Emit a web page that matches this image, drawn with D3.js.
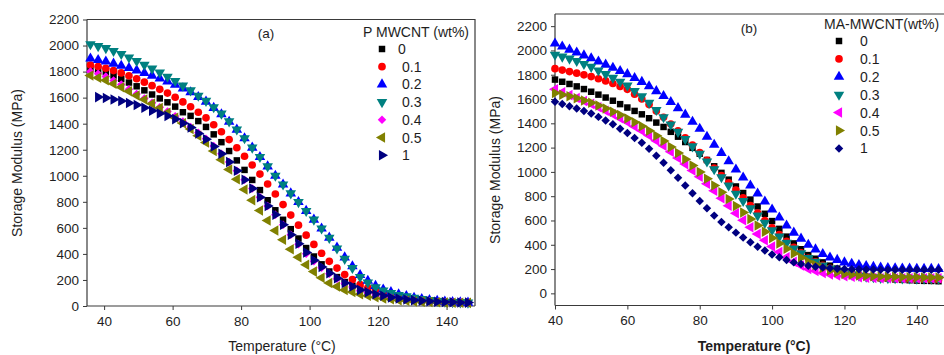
<!DOCTYPE html>
<html><head><meta charset="utf-8">
<script src="https://cdn.jsdelivr.net/npm/d3@7"></script>
<style>
body{margin:0;background:#fff;}
svg{display:block;font-family:"Liberation Sans",Arial,sans-serif;}
</style></head>
<body><svg id="c" width="944" height="355"></svg>
<script>
// ---------- data ----------
const legendLabels = ["0","0.1","0.2","0.3","0.4","0.5","1"];
const yTicks = [0,200,400,600,800,1000,1200,1400,1600,1800,2000,2200];
const xTicks = [40,60,80,100,120,140];

// Panel (a): P MWCNT
const tempsA = [36,38.25,40.5,42.75,45,47.25,49.5,51.75,54,56.25,58.5,60.75,63,65.25,67.5,69.75,72,74.25,76.5,78.75,81,83.25,85.5,87.75,90,92.25,94.5,96.75,99,101.25,103.5,105.75,108,110.25,112.5,114.75,117,119.25,121.5,123.75,126,128.25,130.5,132.75,135,137.25,139.5,141.75,144,146.25];
const a_0  = [1830,1813,1795,1770,1745,1716,1687,1656,1624,1594,1564,1531,1488,1460,1420,1375,1318,1258,1190,1118,1045,968,890,812,735,662,590,518,445,380,320,265,222,184,156,128,109,91,78,66,57,50,44,40,35,32,29,27,25,24];
const a_01 = [1850,1839,1826,1808,1790,1768,1745,1719,1692,1664,1635,1603,1567,1530,1488,1445,1392,1338,1278,1215,1150,1083,1013,937,860,779,698,621,544,473,405,343,291,241,203,164,140,118,100,84,70,60,51,44,38,34,31,29,27,25];
const a_02 = [1900,1889,1877,1861,1845,1827,1809,1789,1769,1748,1725,1700,1671,1641,1605,1569,1521,1472,1415,1354,1288,1216,1144,1072,1000,933,865,798,730,663,595,525,448,373,305,238,194,154,127,106,89,76,63,54,45,39,33,30,28,26];
const a_03 = [2010,1996,1980,1958,1935,1908,1881,1852,1823,1793,1761,1728,1692,1656,1615,1575,1526,1477,1418,1355,1288,1216,1144,1072,1000,933,865,798,730,663,595,523,442,362,292,223,181,143,118,100,85,74,63,54,45,39,33,30,28,26];
const a_04 = [1800,1783,1763,1732,1700,1664,1628,1594,1560,1526,1493,1457,1416,1375,1330,1285,1228,1170,1105,1038,970,903,835,768,700,624,547,474,402,343,293,247,209,172,145,118,101,85,73,63,54,48,42,38,34,31,29,27,26,25];
const a_05 = [1770,1753,1734,1707,1680,1649,1617,1586,1554,1520,1484,1446,1403,1359,1308,1256,1190,1123,1049,973,894,813,733,657,580,508,436,375,316,264,217,176,149,123,107,90,78,67,58,51,45,40,35,33,30,28,26,25,25,24];
const a_1  = [null,1604,1598,1586,1575,1559,1544,1523,1500,1479,1459,1435,1403,1370,1325,1280,1225,1169,1105,1038,970,903,835,768,700,624,547,478,410,351,300,252,214,177,150,123,106,90,78,66,57,50,44,40,36,33,31,29,27,26];

// Panel (b): MA-MWCNT
const tempsB = [40,42,44,46,48,50,52,54,56,58,60,62,64,66,68,70,72,74,76,78,80,82,84,86,88,90,92,94,96,98,100,102,104,106,108,110,112,114,116,118,120,122,124,126,128,130,132,134,136,138,140,142,144,146];
const b_0  = [1760,1742,1724,1704,1682,1660,1636,1612,1586,1558,1530,1502,1474,1442,1406,1370,1330,1290,1246,1198,1150,1098,1046,992,936,880,826,772,715,655,595,531,467,411,363,315,285,255,228,204,180,166,152,141,133,125,120,115,111,108,105,103,102,100];
const b_01 = [1850,1838,1826,1813,1799,1785,1767,1749,1728,1704,1680,1640,1600,1554,1502,1450,1394,1338,1280,1220,1160,1096,1032,970,910,850,786,722,660,600,540,484,428,378,334,290,260,230,206,188,170,158,146,137,131,125,122,119,117,116,115,114,113,112];
const b_02 = [2057,2032,2007,1983,1959,1935,1909,1883,1857,1831,1805,1773,1741,1705,1665,1625,1575,1525,1471,1413,1355,1289,1223,1156,1088,1020,954,888,822,756,690,624,558,500,450,400,362,324,295,275,255,244,233,225,218,212,209,206,204,203,202,201,201,200];
const b_03 = [1965,1949,1933,1913,1889,1865,1835,1805,1774,1742,1710,1666,1622,1570,1510,1450,1390,1330,1270,1210,1150,1086,1022,956,888,820,760,700,640,580,520,468,416,370,330,290,260,230,205,185,165,155,145,138,133,128,126,124,123,122,121,121,120,120];
const b_04 = [1680,1656,1632,1608,1584,1560,1532,1504,1474,1442,1410,1374,1338,1299,1257,1215,1165,1115,1064,1012,960,902,844,784,722,660,602,544,489,437,385,341,297,260,230,200,184,168,156,148,140,136,132,129,127,125,125,125,125,125,125,125,125,125];
const b_05 = [1650,1636,1622,1606,1588,1570,1546,1522,1496,1468,1440,1408,1376,1339,1297,1255,1205,1155,1104,1052,1000,944,888,832,776,720,666,612,559,507,455,411,367,328,294,260,234,208,188,174,160,154,148,144,140,138,137,136,134,133,132,131,131,130];
const b_1  = [1577,1559,1541,1522,1501,1481,1453,1424,1392,1356,1320,1280,1240,1191,1133,1075,1013,951,888,824,760,700,640,588,544,500,460,420,384,352,320,297,274,255,242,228,220,212,206,203,200,199,198,197,196,195,195,195,195,195,195,195,195,195];

const colors = ["#000000","#ff0000","#0000ff","#008080","#ff00ff","#808000","#000080"];

// ---------- drawing ----------
const svg = d3.select("#c");
const TXT = "#1e1e1e", AX = "#3a3a3a";

const sym = {
  square:  {t:d3.symbolSquare,  s:42, r:0},
  circle:  {t:d3.symbolCircle,  s:46, r:0},
  up:      {t:d3.symbolTriangle,s:48, r:0},
  down:    {t:d3.symbolTriangle,s:48, r:180},
  left:    {t:d3.symbolTriangle,s:48, r:-90},
  right:   {t:d3.symbolTriangle,s:48, r:90},
  diamond: {t:d3.symbolSquare,  s:36, r:45}
};

function panel(cfg){
  const x = d3.scaleLinear().domain(cfg.xd).range([cfg.L, cfg.R]);
  const y = d3.scaleLinear().domain(cfg.yd).range([cfg.B, cfg.T]);
  const g = svg.append("g");

  g.append("path").attr("d",`M${cfg.L},${cfg.T}H${cfg.R}V${cfg.B}`)
    .attr("fill","none").attr("stroke",AX).attr("stroke-width",1.2);

  const ya = d3.axisLeft(y).tickValues(yTicks).tickFormat(d3.format("d")).tickSize(4).tickSizeOuter(0).tickPadding(4);
  const yg = g.append("g").attr("transform",`translate(${cfg.L},0)`).call(ya);
  const xa = d3.axisBottom(x).tickValues(xTicks).tickFormat(d3.format("d")).tickSize(4).tickSizeOuter(0).tickPadding(6);
  const xg = g.append("g").attr("transform",`translate(0,${cfg.B})`).call(xa);
  [yg,xg].forEach(a=>{
    a.selectAll("path").attr("stroke",AX).attr("stroke-width",1.2);
    a.selectAll("line").attr("stroke",AX).attr("stroke-width",1);
    a.selectAll("text").attr("fill",TXT).style("font-size","13.5px").style("font-family","Liberation Sans, Arial, sans-serif");
  });
  yg.select("path.domain").attr("d",`M0,${cfg.B}V${cfg.T}`);
  xg.select("path.domain").attr("d",`M${cfg.L},0H${cfg.R}`);

  cfg.series.forEach((vals,i)=>{
    const sp = sym[cfg.shapes[i]];
    const gen = d3.symbol().type(sp.t).size(sp.s);
    const pts = cfg.temps.map((t,j)=>[t,vals[j]]).filter(d=>d[1]!=null);
    g.append("g").selectAll("path").data(pts).join("path")
      .attr("d",gen)
      .attr("transform",d=>`translate(${x(d[0])},${y(d[1])}) rotate(${sp.r})`)
      .attr("fill",colors[i]);
  });

  g.append("text").attr("x",cfg.lab[0]).attr("y",cfg.lab[1]).attr("text-anchor","middle")
    .attr("fill",TXT).style("font-size","13.5px").text(cfg.label);

  g.append("text").attr("x",cfg.leg.tx).attr("y",cfg.leg.ty).attr("fill",TXT)
    .style("font-size","14px").text(cfg.legTitle);
  legendLabels.forEach((lb,i)=>{
    const sp = sym[cfg.shapes[i]];
    const gen = d3.symbol().type(sp.t).size(sp.s);
    const cy = cfg.leg.y0 + i*cfg.leg.dy;
    g.append("path").attr("d",gen).attr("fill",colors[i])
      .attr("transform",`translate(${cfg.leg.sx},${cy}) rotate(${sp.r})`);
    g.append("text").attr("x",cfg.leg.lx + (cfg.leg.off && lb==="0" ? -4 : 0)).attr("y",cy+5)
      .attr("fill",TXT).style("font-size","14px").text(lb);
  });

  g.append("text").attr("transform",`translate(${cfg.yt[0]},${cfg.yt[1]}) rotate(-90)`)
    .attr("text-anchor","middle").attr("fill",TXT).style("font-size","14px").text("Storage Modulus (MPa)");
  g.append("text").attr("x",cfg.xt[0]).attr("y",cfg.xt[1]).attr("text-anchor","middle")
    .attr("fill",TXT).style("font-size","14px").style("font-weight",cfg.xbold?"bold":"normal")
    .text("Temperature (°C)");
}

panel({
  xd:[35,148.3], yd:[0,2200], L:87, R:475, T:19.5, B:306,
  temps:tempsA, series:[a_0,a_01,a_02,a_03,a_04,a_05,a_1],
  shapes:["square","circle","up","down","diamond","left","right"],
  label:"(a)", lab:[266,38],
  legTitle:"P MWCNT (wt%)", leg:{tx:363,ty:37,sx:382,lx:402,y0:49,dy:17.7,off:true},
  yt:[22,163], xt:[282,351], xbold:false
});

panel({
  xd:[40,150], yd:[-100,2300], L:555, R:953, T:14, B:305.5,
  temps:tempsB, series:[b_0,b_01,b_02,b_03,b_04,b_05,b_1],
  shapes:["square","circle","up","down","left","right","diamond"],
  label:"(b)", lab:[749,33],
  legTitle:"MA-MWCNT(wt%)", leg:{tx:824,ty:29,sx:839,lx:860,y0:41,dy:17.9,off:false},
  yt:[500,170], xt:[754,351], xbold:true
});
</script></body></html>
